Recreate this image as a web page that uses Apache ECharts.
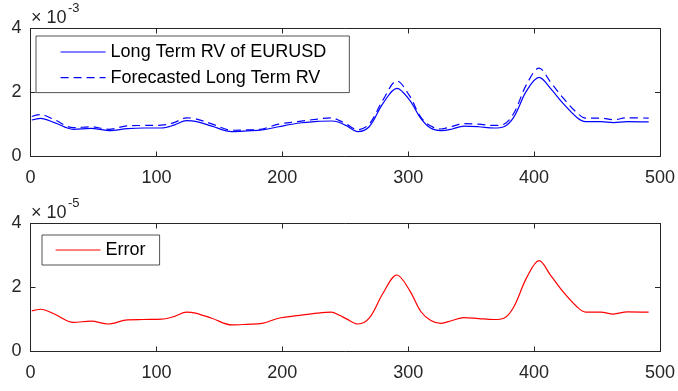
<!DOCTYPE html>
<html>
<head>
<meta charset="utf-8">
<script src="https://cdn.jsdelivr.net/npm/echarts@6/dist/echarts.min.js"></script>
<style>
  html, body { margin: 0; padding: 0; background: #fff; }
  #chart { width: 678px; height: 391px; }
</style>
</head>
<body>
<div id="chart"></div>
<script>
// sample positions (x axis)
const steps = [1, 8, 19, 34, 48, 62, 77, 90, 104, 114, 124, 131, 144, 160, 172, 184, 197, 212, 228, 239, 245, 251, 260, 269, 280, 291, 301, 310, 318, 326, 335, 344, 356, 368, 376, 384, 394, 404, 413, 423, 434, 441, 453, 463, 474, 491];

// top panel, values in units of 1e-3
const longTermRV = [1.14, 1.19, 1.06, 0.85, 0.88, 0.81, 0.87, 0.89, 0.89, 0.98, 1.12, 1.10, 0.95, 0.78, 0.80, 0.83, 0.93, 1.04, 1.10, 1.11, 1.07, 0.96, 0.78, 0.93, 1.66, 2.13, 1.77, 1.19, 0.88, 0.81, 0.86, 0.95, 0.93, 0.89, 0.93, 1.24, 2.05, 2.47, 2.13, 1.66, 1.22, 1.09, 1.09, 1.06, 1.09, 1.08];
const forecastRV = [1.25, 1.31, 1.15, 0.90, 0.93, 0.85, 0.96, 0.97, 0.98, 1.06, 1.21, 1.18, 1.02, 0.82, 0.83, 0.86, 1.01, 1.09, 1.17, 1.21, 1.13, 1.01, 0.84, 1.01, 1.77, 2.36, 1.90, 1.23, 0.95, 0.86, 0.94, 1.03, 1.01, 0.97, 1.01, 1.36, 2.25, 2.76, 2.33, 1.83, 1.37, 1.20, 1.20, 1.15, 1.21, 1.20];

// bottom panel, values in units of 1e-5
const errorVals = [1.27, 1.32, 1.17, 0.91, 0.95, 0.86, 0.99, 1.00, 1.01, 1.09, 1.23, 1.20, 1.04, 0.83, 0.85, 0.88, 1.04, 1.12, 1.20, 1.23, 1.14, 1.02, 0.86, 1.04, 1.82, 2.39, 1.92, 1.25, 0.97, 0.88, 0.97, 1.06, 1.03, 1.00, 1.04, 1.40, 2.30, 2.84, 2.39, 1.87, 1.40, 1.23, 1.23, 1.17, 1.24, 1.23];

const xTicks = { min: 0, max: 500, step: 100 };
const yTicks = { min: 0, max: 4, step: 2 };

const ink = '#262626';
const blue = '#0000ff';
const red = '#ff0000';
const font = '"Liberation Sans", Arial, Helvetica, sans-serif';

const pairs = (vals) => steps.map((s, i) => [s, vals[i]]);

const lineAx = { show: true, onZero: false, lineStyle: { color: ink, width: 1 } };
const tickAx = { show: true, inside: true, length: 5, lineStyle: { color: ink, width: 1 } };

function xAx(grid, pos, labels) {
  return {
    type: 'value', gridIndex: grid, position: pos,
    min: xTicks.min, max: xTicks.max, interval: xTicks.step,
    axisLine: lineAx, axisTick: tickAx, splitLine: { show: false },
    axisLabel: { show: labels, color: ink, fontSize: 18, fontFamily: font, margin: 13 }
  };
}
function yAx(grid, pos, labels) {
  return {
    type: 'value', gridIndex: grid, position: pos,
    min: yTicks.min, max: yTicks.max, interval: yTicks.step,
    axisLine: lineAx, axisTick: tickAx, splitLine: { show: false },
    axisLabel: { show: labels, color: ink, fontSize: 18, fontFamily: font, margin: 9 }
  };
}

function expLabel(top, power) {
  return [
    { type: 'text', left: 31, top: top + 7,
      style: { text: '× 10', fontSize: 18, fontFamily: font, fill: ink } },
    { type: 'text', left: 68, top: top,
      style: { text: power, fontSize: 13, fontFamily: font, fill: ink } }
  ];
}

const chart = echarts.init(document.getElementById('chart'), null, { renderer: 'canvas' });

// legend draws the series line; the symbol is made invisible
const legendBase = {
  orient: 'vertical', itemWidth: 45, itemHeight: 14,
  itemStyle: { opacity: 0 },
  lineStyle: { width: 1.2 },
  backgroundColor: '#fff', borderColor: ink, borderWidth: 0.8, borderRadius: 0,
  textStyle: { color: '#000', fontSize: 18, fontFamily: font, lineHeight: 20 }
};

const option = {
  backgroundColor: '#fff',
  animation: false,
  grid: [
    { left: 30.5, right: 16.5, top: 28.5, height: 128 },
    { left: 30.5, right: 16.5, top: 223.5, height: 128 }
  ],
  xAxis: [xAx(0, 'bottom', true), xAx(0, 'top', false), xAx(1, 'bottom', true), xAx(1, 'top', false)],
  yAxis: [yAx(0, 'left', true), yAx(0, 'right', false), yAx(1, 'left', true), yAx(1, 'right', false)],
  legend: [
    Object.assign({}, legendBase, {
      left: 36, top: 36, padding: [6, 23, 5, 24], itemGap: 5.6,
      data: ['Long Term RV of EURUSD', 'Forecasted Long Term RV']
    }),
    Object.assign({}, legendBase, {
      left: 42, top: 235, padding: [5, 14, 5, 13],
      data: ['Error']
    })
  ],
  graphic: expLabel(2, '-3').concat(expLabel(197, '-5')),
  series: [
    {
      name: 'Long Term RV of EURUSD', type: 'line', xAxisIndex: 0, yAxisIndex: 0,
      data: pairs(longTermRV), smooth: 0.35, symbol: 'circle', showSymbol: false,
      lineStyle: { color: blue, width: 1.2 }, itemStyle: { color: blue }
    },
    {
      name: 'Forecasted Long Term RV', type: 'line', xAxisIndex: 0, yAxisIndex: 0,
      data: pairs(forecastRV), smooth: 0.35, symbol: 'circle', showSymbol: false,
      lineStyle: { color: blue, width: 1.2, type: [8, 5] }, itemStyle: { color: blue }
    },
    {
      name: 'Error', type: 'line', xAxisIndex: 2, yAxisIndex: 2,
      data: pairs(errorVals), smooth: 0.35, symbol: 'circle', showSymbol: false,
      lineStyle: { color: red, width: 1.2 }, itemStyle: { color: red }
    }
  ]
};

chart.setOption(option);
</script>
</body>
</html>
